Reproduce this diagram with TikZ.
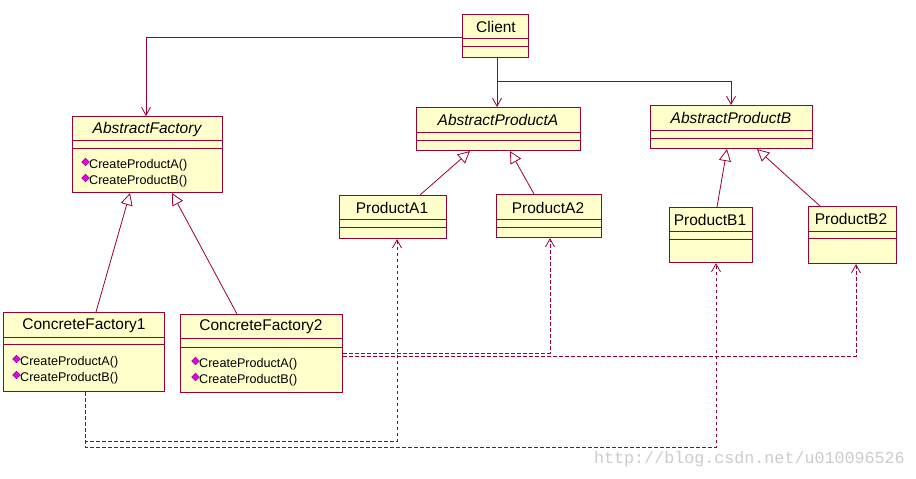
\documentclass[tikz,border=0pt]{standalone}
\usepackage{fontspec}
\setmainfont{Liberation Sans}
\newfontfamily\wmfont{Liberation Mono}
\usetikzlibrary{arrows.meta,calc,shapes.geometric}
\definecolor{lc}{RGB}{153,0,51}
\definecolor{fillc}{RGB}{255,255,204}
\definecolor{dia}{RGB}{230,0,230}
\definecolor{diad}{RGB}{110,0,110}
\tikzset{
  x=1pt, y=-1pt,
  cls/.style={draw=lc, fill=fillc, line width=1.1pt, inner sep=0pt, anchor=north west},
  sep/.style={draw=lc, line width=1pt},
  cname/.style={font=\fontsize{15.5}{17}\selectfont, inner sep=0pt},
  aname/.style={font=\fontsize{15.5}{17}\selectfont\itshape, inner sep=0pt},
  meth/.style={font=\fontsize{12.6}{14}\selectfont, inner sep=0pt, anchor=west},
  methmark/.style={diamond, fill=dia, draw=diad, line width=0.4pt, inner sep=0pt, minimum width=8pt, minimum height=8pt},
  assoc/.style={draw=lc, line width=0.8pt, -{Straight Barb[length=8pt,width=9pt,line width=0.8pt]}},
  gen/.style={draw=lc, line width=0.8pt, -{Triangle[open,length=12pt,width=12pt,fill=white,line width=0.8pt]}},
  dep/.style={draw=lc, line width=0.9pt, dash pattern=on 3.5pt off 2.5pt, -{Straight Barb[length=8pt,width=9pt,line width=0.8pt]}},
}
% \umlbox{name}{x1}{y1}{x2}{y2}{line1}{line2}
\newcommand{\umlbox}[7]{%
  \node[cls, minimum width={#4-#2}, minimum height={#5-#3}] (#1) at (#2,#3) {};
  \draw[sep] (#2,#6) -- (#4,#6);
  \draw[sep] (#2,#7) -- (#4,#7);
}
\begin{document}
\begin{tikzpicture}
\useasboundingbox[fill=white] (0,0) rectangle (916,479);

% boxes
\umlbox{C}{462}{14}{528}{57}{38}{46.5}
\umlbox{AF}{72}{116}{222}{192}{140}{148}
\umlbox{APA}{416}{107}{580}{150}{132}{140}
\umlbox{A1}{339}{195}{446}{238}{219}{227}
\umlbox{A2}{496}{194}{601}{237}{219}{227}
\umlbox{APB}{650}{105}{812}{148}{130}{138}
\umlbox{B1}{669}{207}{752}{262}{231}{239}
\umlbox{B2}{808}{206}{896}{263}{231}{238}
\umlbox{CF1}{3}{312}{164}{391}{337}{344}
\umlbox{CF2}{180}{314}{342}{392}{338}{347}

% names
\node[cname] (tC) at (496,27) {Client};
\node[aname] (tAF) at (147,129) {AbstractFactory};
\node[aname] (tAPA) at (498,120) {AbstractProductA};
\node[aname] (tAPB) at (731,118) {AbstractProductB};
\node[cname] (tA1) at (392,208) {ProductA1};
\node[cname] (tA2) at (548,208) {ProductA2};
\node[cname] (tB1) at (710,220) {ProductB1};
\node[cname] (tB2) at (851,219) {ProductB2};
\node[cname] (tCF1) at (84,326) {ConcreteFactory1};
\node[cname] (tCF2) at (261,327) {ConcreteFactory2};

% methods
\node[methmark] (mAF1) at (85.5,162) {};
\node[meth] (tAF1) at (89,165) {CreateProductA()};
\node[methmark] (mAF2) at (85.5,178) {};
\node[meth] (tAF2) at (89,181) {CreateProductB()};
\node[methmark] (mCF11) at (16.5,359) {};
\node[meth] (tCF11) at (20,362) {CreateProductA()};
\node[methmark] (mCF12) at (16.5,375) {};
\node[meth] (tCF12) at (20,378) {CreateProductB()};
\node[methmark] (mCF21) at (195.5,361) {};
\node[meth] (tCF21) at (199,364) {CreateProductA()};
\node[methmark] (mCF22) at (195.5,377) {};
\node[meth] (tCF22) at (199,380) {CreateProductB()};

% associations from Client
\draw[assoc] ($(C.north west)+(0,23)$) -| ($(AF.north west)+(74,0)$);
\draw[assoc] ($(C.south west)+(35,0)$) -- ($(APA.north west)+(81,0)$);
\draw[assoc] ($(C.south west)+(35,0)$) -- ++(0,23) -| ($(APB.north west)+(81,0)$);

% generalizations
\draw[gen] ($(A1.north west)+(81,0)$) -- ($(APA.south west)+(54,0)$);
\draw[gen] ($(A2.north west)+(38,0)$) -- ($(APA.south west)+(94,0)$);
\draw[gen] ($(B1.north west)+(48,0)$) -- ($(APB.south west)+(77,0)$);
\draw[gen] ($(B2.north west)+(12,0)$) -- ($(APB.south west)+(107,0)$);
\draw[gen] ($(CF1.north west)+(93,0)$) -- ($(AF.south west)+(58,0)$);
\draw[gen] ($(CF2.north west)+(57,0)$) -- ($(AF.south west)+(100,0)$);

% dependencies
\draw[dep] ($(CF2.north east)+(0,39)$) -| ($(A2.south west)+(54,0)$);
\draw[dep] ($(CF2.north east)+(0,42)$) -| ($(B2.south west)+(48,0)$);
\draw[dep] ($(CF1.south west)+(82,0)$) -- ++(0,49) -| ($(A1.south west)+(58,0)$);
\draw[dep] ($(CF1.south west)+(82,0)$) -- ++(0,55) -| ($(B1.south west)+(47,0)$);

% watermark
\node[font=\wmfont\fontsize{16.7}{18}\selectfont, text=black!20, inner sep=0pt, anchor=east] (wm) at (905,459) {http://blog.csdn.net/u010096526};
\end{tikzpicture}
\end{document}
